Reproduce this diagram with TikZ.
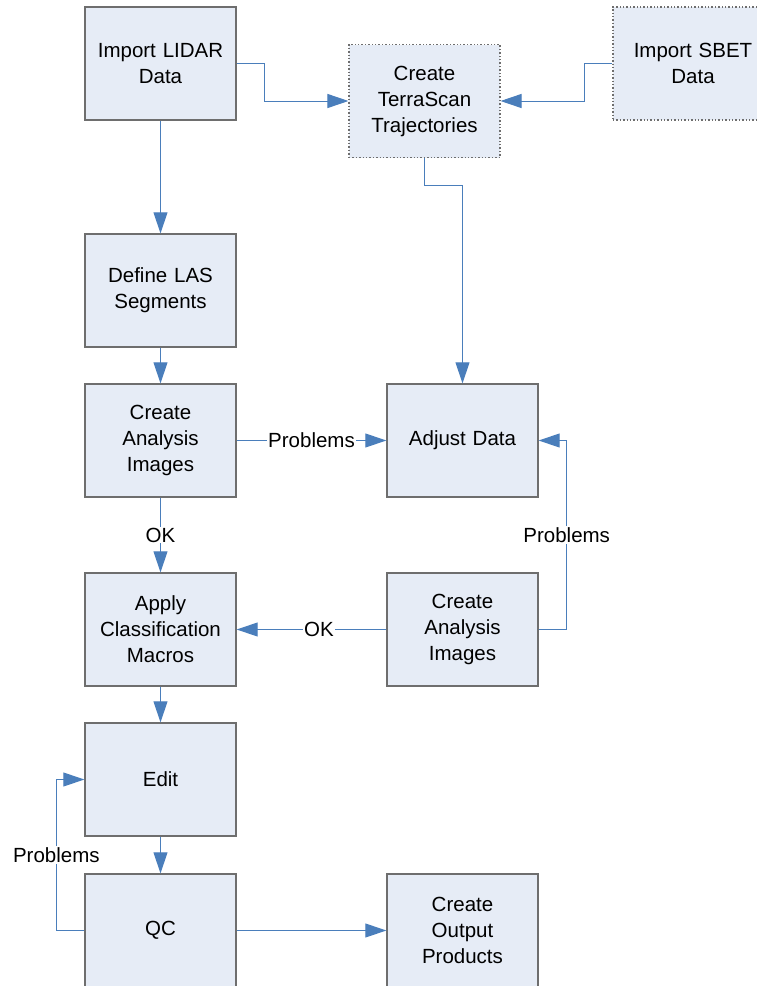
\documentclass[tikz,border=0pt]{standalone}
\usepackage{fontspec}
\setmainfont{Liberation Sans}
\usetikzlibrary{arrows.meta}
\definecolor{boxfill}{HTML}{E6ECF6}
\definecolor{boxline}{HTML}{6E6E6E}
\definecolor{flowline}{HTML}{4A7EBB}

\tikzset{
	stepbox/.style={draw=boxline, line width=1.4pt, fill=boxfill, minimum width=151pt, minimum height=113pt, text width=140pt, align=center, inner sep=0pt, font=\fontsize{20.5}{26}\selectfont},
	dotbox/.style={stepbox, dotted, line width=1.1pt},
	flow/.style={draw=flowline, line width=1pt, -{Triangle[length=21pt,width=14pt]}},
	lbl/.style={fill=white, inner sep=1pt, font=\fontsize{20.5}{26}\selectfont}
}

\begin{document}
\begin{tikzpicture}[x=1pt,y=-1pt]
			\clip (0,0) rectangle (757,986);
			% top row
			\node[stepbox] (lidar) at (160.5,63.5) {Import LIDAR\\Data};
			\node[dotbox] (terra) at (424.5,101) {Create\\TerraScan\\Trajectories};
			\node[dotbox, minimum width=160pt] (sbet) at (693,63.5) {Import SBET\\Data};
			% left column
			\node[stepbox] (segments) at (160.5,290.5) {Define LAS\\Segments};
			\node[stepbox] (analysis) at (160.5,440.5) {Create\\Analysis\\Images};
			\node[stepbox] (macros) at (160.5,629.5) {Apply\\Classification\\Macros};
			\node[stepbox] (edit) at (160.5,779.5) {Edit};
			\node[stepbox] (qc) at (160.5,930.5) {QC};
			% right column
			\node[stepbox] (adjust) at (462.5,440.5) {Adjust Data};
			\node[stepbox] (recheck) at (462.5,629.5) {Create\\Analysis\\Images};
			\node[stepbox] (output) at (462.5,930.5) {Create\\Output\\Products};
			% connectors
			\draw[flow] (lidar.east) -- ++(28,0) |- (terra.west);
			\draw[flow] (sbet.west) -- ++(-28,0) |- (terra.east);
			\draw[flow] (lidar) -- (segments);
			\draw[flow] (terra.south) -- ++(0,27) -| (adjust.north);
			\draw[flow] (segments) -- (analysis);
			\draw[flow] (analysis) -- node[lbl]{Problems} (adjust);
			\draw[flow] (analysis) -- node[lbl]{OK} (macros);
			\draw[flow] (recheck.east) -- ++(28,0) |- node[lbl,pos=0.25]{Problems} (adjust.east);
			\draw[flow] (recheck) -- node[lbl,pos=0.45]{OK} (macros);
			\draw[flow] (macros) -- (edit);
			\draw[flow] (edit) -- (qc);
			\draw[flow] (qc.west) -- ++(-28,0) |- node[lbl,pos=0.25]{Problems} (edit.west);
			\draw[flow] (qc) -- (output);
	\end{tikzpicture}
\end{document}
